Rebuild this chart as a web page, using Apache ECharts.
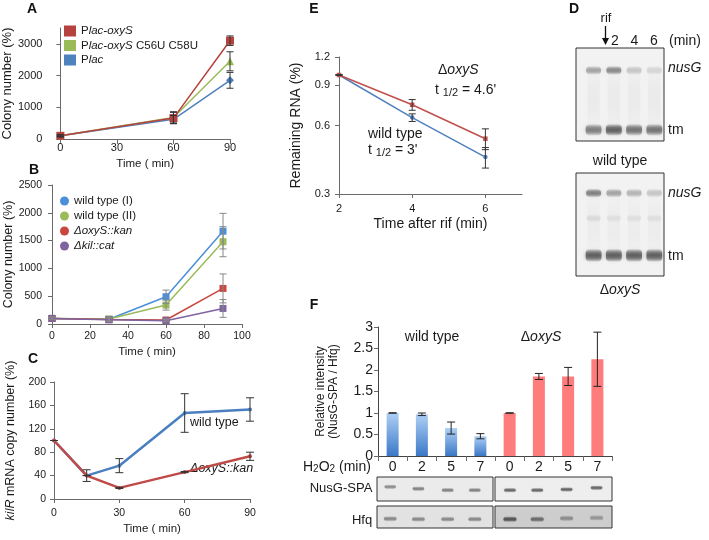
<!DOCTYPE html>
<html><head><meta charset="utf-8">
<script src="https://cdn.jsdelivr.net/npm/echarts@6/dist/echarts.min.js"></script>
<style>html,body{margin:0;padding:0;background:#fff}#c{width:709px;height:540px}</style>
</head><body><div id="c"></div>
<script>
// ---------------- DATA ----------------
// Panel A
const A_time = [0, 60, 90];
const A_placOxyS = [100, 660, 3100];
const A_placOxyS_err = [30, 180, 150];
const A_mutant = [100, 680, 2450];
const A_mutant_err = [30, 180, 300];
const A_plac = [100, 620, 1850];
const A_plac_err = [30, 120, 250];
const A_names = ['Plac-oxyS', 'Plac-oxyS C56U C58U', 'Plac'];
// Panel B
const B_time = [0, 30, 60, 90];
const B_wt1 = [100, 85, 490, 1670];
const B_wt1_err = [20, 40, 120, 320];
const B_wt2 = [100, 90, 340, 1480];
const B_wt2_err = [20, 40, 90, 270];
const B_oxyS = [100, 80, 72, 640];
const B_oxyS_err = [20, 30, 20, 260];
const B_kil = [100, 75, 60, 280];
const B_kil_err = [20, 30, 20, 160];
const B_names = ['wild type (I)', 'wild type (II)', 'ΔoxyS::kan', 'Δkil::cat'];
// Panel C
const C_time = [0, 15, 30, 60, 90];
const C_wt = [100, 40, 57, 147, 153];
const C_wt_err = [0, 10, 12, 33, 20];
const C_oxyS = [100, 40, 19, 46, 73];
const C_oxyS_err = [0, 0, 1, 1, 7];
// Panel E (log axis)
const E_time = [2, 4, 6];
const E_oxyS = [1.0, 0.74, 0.525];
const E_oxyS_low = [1.0, 0.70, 0.47];
const E_oxyS_high = [1.0, 0.78, 0.58];
const E_wt = [1.0, 0.65, 0.436];
const E_wt_low = [1.0, 0.625, 0.39];
const E_wt_high = [1.0, 0.675, 0.48];
const E_yTicks = [0.3, 0.6, 0.9, 1.2];
const E_xTicks = [2, 4, 6];
// Panel F
const F_cats = ['0', '2', '5', '7', '0', '2', '5', '7'];
const F_wt = [1.0, 0.97, 0.65, 0.46];
const F_wt_err = [0.005, 0.03, 0.14, 0.06];
const F_oxyS = [1.0, 1.85, 1.85, 2.25];
const F_oxyS_err = [0.005, 0.07, 0.21, 0.63];
// Gel band intensities (0..1)
const D_wt_nusG = [0.38, 0.5, 0.22, 0.15];
const D_wt_tm = [0.55, 0.7, 0.6, 0.6];
const D_oxyS_nusG = [0.55, 0.38, 0.3, 0.22];
const D_oxyS_mid = [0.1, 0.08, 0.08, 0.08];
const D_oxyS_tm = [0.7, 0.7, 0.7, 0.7];
const F_nusG_wt = [0.5, 0.55, 0.55, 0.55];
const F_nusG_oxyS = [0.7, 0.7, 0.7, 0.7];
const F_hfq_wt = [0.5, 0.5, 0.5, 0.5];
const F_hfq_oxyS = [0.75, 0.6, 0.4, 0.35];

// ---------------- DRAWING ----------------
const FONT = '"Liberation Sans", Arial, Helvetica, sans-serif';
const TXT = '#1a1a1a';
function merge(a, b) {
  const o = Object.assign({}, a);
  for (const k in b) {
    if (b[k] && typeof b[k] === 'object' && !Array.isArray(b[k]) && a[k] && typeof a[k] === 'object') o[k] = merge(a[k], b[k]);
    else o[k] = b[k];
  }
  return o;
}
function axis(gi, extra) {
  return merge({
    type: 'value', gridIndex: gi,
    axisLine: { show: true, onZero: false, lineStyle: { color: '#6a6a6a', width: 1 } },
    axisTick: { show: true, length: 4, lineStyle: { color: '#6a6a6a' } },
    splitLine: { show: false },
    axisLabel: { color: TXT, fontFamily: FONT, fontSize: 11, formatter: v => String(v) },
    nameTextStyle: { color: TXT, fontFamily: FONT, fontSize: 13 },
    nameLocation: 'middle'
  }, extra || {});
}
function hidden(gi, inverse) {
  return { type: 'value', gridIndex: gi, min: 0, max: 1, show: false, inverse: !!inverse };
}
function line(name, xs, ys, gi, color, symbol, size, width, z) {
  return { type: 'line', name, xAxisIndex: gi, yAxisIndex: gi, data: xs.map((x, i) => [x, ys[i]]),
    symbol, symbolSize: size, showSymbol: true, lineStyle: { color, width }, itemStyle: { color },
    z: z || 3, animation: false, emphasis: { disabled: true } };
}
function errBars(xs, lo, hi, gi, color, cap, z) {
  return { type: 'custom', xAxisIndex: gi, yAxisIndex: gi, z: z || 4, animation: false, silent: true,
    data: xs.map((x, i) => [x, lo[i], hi[i]]), encode: { x: 0, y: [1, 2] },
    renderItem: function (params, api) {
      const p1 = api.coord([api.value(0), api.value(2)]);
      const p2 = api.coord([api.value(0), api.value(1)]);
      const st = { stroke: color, lineWidth: 1 };
      return { type: 'group', children: [
        { type: 'line', shape: { x1: p1[0], y1: p1[1], x2: p2[0], y2: p2[1] }, style: st },
        { type: 'line', shape: { x1: p1[0] - cap, y1: p1[1], x2: p1[0] + cap, y2: p1[1] }, style: st },
        { type: 'line', shape: { x1: p2[0] - cap, y1: p2[1], x2: p2[0] + cap, y2: p2[1] }, style: st }
      ] };
    } };
}
function sym(vals, errs, sign) { return vals.map((v, i) => v + sign * errs[i]); }

// gel bands: item = [laneIndex, yFrac, intensity, heightFrac]
function gel(gi, lanes, bandW, items, rgb, blur) {
  return { type: 'custom', xAxisIndex: gi, yAxisIndex: gi, z: 3, animation: false, silent: true,
    data: items, encode: { x: 0, y: 1 },
    renderItem: function (params, api) {
      const lane = api.value(0), a = api.value(2);
      const c = api.coord([lanes[lane], api.value(1)]);
      const w = api.size([bandW, 0])[0];
      const h = api.size([0, api.value(3)])[1];
      const col = 'rgba(' + rgb + ',';
      return { type: 'rect', shape: { x: c[0] - w / 2, y: c[1] - h / 2, width: w, height: h, r: Math.min(h / 2, 4) },
        style: { fill: { type: 'linear', x: 0, y: 0, x2: 0, y2: 1, colorStops: [
          { offset: 0, color: col + (a * 0.2) + ')' }, { offset: 0.3, color: col + (a * 0.85) + ')' },
          { offset: 0.5, color: col + a + ')' }, { offset: 0.7, color: col + (a * 0.85) + ')' },
          { offset: 1, color: col + (a * 0.2) + ')' }] },
          shadowBlur: blur, shadowColor: col + (a * 0.7) + ')' } };
    } };
}
function bands(vals, y, h) { return vals.map((v, i) => [i, y, v, h]); }
function bandsY(vals, ys, h) { return vals.map((v, i) => [i, ys[i], v, h]); }

const legendText = { color: TXT, fontFamily: FONT, fontSize: 11.5, fontStyle: 'normal', rich: { i: { fontStyle: 'italic', fontFamily: FONT, fontSize: 11.5, color: TXT } } };

const D_lanes = [0.2, 0.43, 0.66, 0.89];
const FW_lanes = [0.114, 0.357, 0.609, 0.843];
const FO_lanes = [0.128, 0.361, 0.612, 0.868];

const option = {
  backgroundColor: '#fff',
  animation: false,
  textStyle: { fontFamily: FONT },
  grid: [
    { left: 55, top: 28, width: 175, height: 111 },       // 0 A
    { left: 52, top: 185, width: 190, height: 139 },      // 1 B
    { left: 54, top: 382, width: 196, height: 117 },      // 2 C
    { left: 339, top: 57, width: 183, height: 137 },      // 3 E
    { left: 378, top: 327, width: 234, height: 129 },     // 4 F
    { left: 576, top: 48, width: 88, height: 93, show: true, backgroundColor: '#f2f2f2', borderColor: '#333', borderWidth: 1 },  // 5 D wt
    { left: 576, top: 173, width: 88, height: 103, show: true, backgroundColor: '#f2f2f2', borderColor: '#333', borderWidth: 1 }, // 6 D oxyS
    { left: 377, top: 477, width: 116, height: 24, show: true, backgroundColor: '#ebebeb', borderColor: '#333', borderWidth: 1 },  // 7
    { left: 495, top: 477, width: 117, height: 24, show: true, backgroundColor: '#eeeeee', borderColor: '#333', borderWidth: 1 },  // 8
    { left: 377, top: 506, width: 116, height: 22, show: true, backgroundColor: '#e2e2e2', borderColor: '#333', borderWidth: 1 },  // 9
    { left: 495, top: 506, width: 117, height: 22, show: true, backgroundColor: '#cdcdcd', borderColor: '#333', borderWidth: 1 }   // 10
  ],
  xAxis: [
    axis(0, { min: 0, max: 90, interval: 30, name: 'Time ( min)', nameGap: 19, nameTextStyle: { fontSize: 11.5 }, axisLabel: { margin: 3 }, axisTick: { length: 5 } }),
    axis(1, { min: 0, max: 100, interval: 20, name: 'Time ( min)', nameGap: 22, nameTextStyle: { fontSize: 11.5 }, axisLabel: { margin: 7, fontSize: 10.5 } }),
    axis(2, { min: 0, max: 90, interval: 30, name: 'Time ( min)', nameGap: 24, nameTextStyle: { fontSize: 11.5 }, axisLabel: { margin: 9, fontSize: 10.5 } }),
    axis(3, { min: 2, max: 7, interval: 1, name: 'Time after rif (min)', nameGap: 23, nameTextStyle: { fontSize: 14 },
      axisLabel: { margin: 9, customValues: E_xTicks }, axisTick: { customValues: E_xTicks } }),
    merge(axis(4, {}), { type: 'category', data: F_cats, axisLabel: { fontSize: 14, margin: 4 }, axisTick: { alignWithLabel: false, length: 5 }, axisLine: { lineStyle: { color: '#444' } } }),
    hidden(5), hidden(6), hidden(7), hidden(8), hidden(9), hidden(10)
  ],
  yAxis: [
    axis(0, { min: 0, max: 3500, interval: 1000, name: 'Colony number (%)', nameGap: 37,
      axisLabel: { margin: 18, showMaxLabel: false } }),
    axis(1, { min: 0, max: 2500, interval: 500, name: 'Colony number (%)', nameGap: 37, nameTextStyle: { fontSize: 12.5 }, axisLabel: { margin: 10, fontSize: 10.5 } }),
    axis(2, { min: 0, max: 200, interval: 40, name: '{i|kilR} mRNA copy number (%)', nameGap: 37,
      nameTextStyle: { fontSize: 12.5, rich: { i: { fontStyle: 'italic', fontSize: 12.5, fontFamily: FONT, color: TXT } } },
      axisLabel: { margin: 8, fontSize: 10.5 } }),
    axis(3, { type: 'log', logBase: 10, min: 0.3, max: 1.2, name: 'Remaining RNA (%)', nameGap: 36, nameTextStyle: { fontSize: 14 },
      axisLabel: { margin: 9, customValues: E_yTicks, formatter: v => String(Math.round(v * 10) / 10) }, axisTick: { customValues: E_yTicks } }),
    axis(4, { min: 0, max: 3, interval: 0.5, name: 'Relative intensity\n(NusG-SPA / Hfq)', nameGap: 38,
      nameTextStyle: { fontSize: 12, lineHeight: 13 }, axisLabel: { margin: 5, fontSize: 14 }, axisLine: { lineStyle: { color: '#444' } } }),
    hidden(5, true), hidden(6, true), hidden(7, true), hidden(8, true), hidden(9, true), hidden(10, true)
  ],
  legend: [
    { data: A_names, left: 64, top: 25, padding: 0, orient: 'vertical', icon: 'rect', itemWidth: 12, itemHeight: 11, itemGap: 2.5,
      selectedMode: false, textStyle: legendText,
      formatter: n => n === 'Plac' ? 'P{i|lac}' : n.replace('Plac-oxyS', 'P{i|lac-oxyS}') },
    { data: B_names, left: 60, top: 195, padding: 0, orient: 'vertical', icon: 'circle', itemWidth: 9, itemHeight: 9, itemGap: 3,
      selectedMode: false, textStyle: legendText,
      formatter: n => n.indexOf('Δ') === 0 ? '{i|' + n + '}' : n }
  ],
  series: [
    // A
    line(A_names[2], A_time, A_plac, 0, '#4f81bd', 'diamond', 8, 1.5, 3),
    line(A_names[1], A_time, A_mutant, 0, '#9bbb59', 'triangle', 8, 1.5, 4),
    line(A_names[0], A_time, A_placOxyS, 0, '#b4423e', 'rect', 8, 1.5, 5),
    errBars(A_time, sym(A_plac, A_plac_err, -1), sym(A_plac, A_plac_err, 1), 0, '#333', 3.5, 6),
    errBars(A_time, sym(A_mutant, A_mutant_err, -1), sym(A_mutant, A_mutant_err, 1), 0, '#333', 3.5, 6),
    errBars(A_time, sym(A_placOxyS, A_placOxyS_err, -1), sym(A_placOxyS, A_placOxyS_err, 1), 0, '#333', 3.5, 6),
    // B
    line(B_names[0], B_time, B_wt1, 1, '#4a8fd8', 'rect', 7, 1.5, 3),
    line(B_names[1], B_time, B_wt2, 1, '#9bbb59', 'rect', 7, 1.5, 3),
    line(B_names[2], B_time, B_oxyS, 1, '#c9473f', 'rect', 7, 1.5, 3),
    line(B_names[3], B_time, B_kil, 1, '#8064a2', 'rect', 7, 1.5, 4),
    errBars(B_time, sym(B_wt1, B_wt1_err, -1), sym(B_wt1, B_wt1_err, 1), 1, '#888', 3.5, 6),
    errBars(B_time, sym(B_wt2, B_wt2_err, -1), sym(B_wt2, B_wt2_err, 1), 1, '#888', 3.5, 6),
    errBars(B_time, sym(B_oxyS, B_oxyS_err, -1), sym(B_oxyS, B_oxyS_err, 1), 1, '#888', 3.5, 6),
    errBars(B_time, sym(B_kil, B_kil_err, -1), sym(B_kil, B_kil_err, 1), 1, '#888', 3.5, 6),
    // C
    line('C wild type', C_time, C_wt, 2, '#4a7fc1', 'circle', 4, 2.5, 3),
    line('C oxyS', C_time, C_oxyS, 2, '#be4b48', 'circle', 4, 2.5, 4),
    errBars(C_time, sym(C_wt, C_wt_err, -1), sym(C_wt, C_wt_err, 1), 2, '#333', 4, 6),
    errBars(C_time, sym(C_oxyS, C_oxyS_err, -1), sym(C_oxyS, C_oxyS_err, 1), 2, '#333', 4, 6),
    // E
    line('E wild type', E_time, E_wt, 3, '#4f81bd', 'circle', 4.5, 1.5, 3),
    line('E oxyS', E_time, E_oxyS, 3, '#c0504d', 'rect', 4.5, 1.5, 4),
    errBars(E_time, E_wt_low, E_wt_high, 3, '#333', 3.5, 6),
    errBars(E_time, E_oxyS_low, E_oxyS_high, 3, '#333', 3.5, 6),
    // F
    { type: 'bar', name: 'F wild type', xAxisIndex: 4, yAxisIndex: 4, barWidth: 12, barGap: '-100%', animation: false,
      data: F_wt.concat(['-', '-', '-', '-']),
      itemStyle: { color: { type: 'linear', x: 0, y: 0, x2: 0, y2: 1, colorStops: [{ offset: 0, color: '#aed0f4' }, { offset: 1, color: '#3b78c8' }] } } },
    { type: 'bar', name: 'F oxyS', xAxisIndex: 4, yAxisIndex: 4, barWidth: 12, barGap: '-100%', animation: false,
      data: ['-', '-', '-', '-'].concat(F_oxyS),
      itemStyle: { color: '#ff7c7c' } },
    errBars([0, 1, 2, 3], sym(F_wt, F_wt_err, -1), sym(F_wt, F_wt_err, 1), 4, '#222', 4, 6),
    errBars([4, 5, 6, 7], sym(F_oxyS, F_oxyS_err, -1), sym(F_oxyS, F_oxyS_err, 1), 4, '#222', 4, 6),
    // D gels
    gel(5, D_lanes, 0.14, [0, 1, 2, 3].map(i => [i, 0.55, 0.05, 0.6]), '90,90,90', 8),
    gel(5, D_lanes, 0.17, bands(D_wt_nusG, 0.24, 0.09), '60,60,60', 4),
    gel(5, D_lanes, 0.18, bands(D_wt_tm, 0.88, 0.12), '60,60,60', 4),
    gel(6, D_lanes, 0.14, [0, 1, 2, 3].map(i => [i, 0.5, 0.04, 0.55]), '90,90,90', 8),
    gel(6, D_lanes, 0.17, bands(D_oxyS_nusG, 0.195, 0.08), '60,60,60', 4),
    gel(6, D_lanes, 0.16, bands(D_oxyS_mid, 0.44, 0.07), '60,60,60', 4),
    gel(6, D_lanes, 0.18, bands(D_oxyS_tm, 0.8, 0.12), '60,60,60', 4),
    // F gels
    gel(7, FW_lanes, 0.1, bandsY(F_nusG_wt, [0.41, 0.49, 0.55, 0.55], 0.18), '70,70,70', 2),
    gel(8, FO_lanes, 0.1, bandsY(F_nusG_oxyS, [0.55, 0.55, 0.52, 0.45], 0.18), '70,70,70', 2),
    gel(9, FW_lanes, 0.11, bandsY(F_hfq_wt, [0.58, 0.6, 0.6, 0.6], 0.22), '70,70,70', 2),
    gel(10, FO_lanes, 0.11, bandsY(F_hfq_oxyS, [0.6, 0.6, 0.56, 0.54], 0.24), '60,60,60', 2)
  ],
  graphic: [
    ...[['A', 32, 9], ['B', 34, 170], ['C', 33, 359], ['E', 314, 9], ['D', 574, 9], ['F', 314, 305]].map(t => ({
      type: 'text', x: t[1], y: t[2], style: { text: t[0], font: 'bold 14px ' + FONT, fill: '#111', align: 'center', verticalAlign: 'middle' } })),
    // C annotations
    { type: 'text', x: 190, y: 423, style: { text: 'wild type', font: '12.5px ' + FONT, fill: TXT, verticalAlign: 'middle' } },
    { type: 'text', x: 190, y: 469, style: { text: 'ΔoxyS::kan', font: 'italic 12.5px ' + FONT, fill: TXT, verticalAlign: 'middle' } },
    // E annotations
    { type: 'text', x: 438, y: 70, style: { text: 'Δ{i|oxyS}', font: '14px ' + FONT, fill: TXT, verticalAlign: 'middle',
      rich: { i: { fontStyle: 'italic', fontSize: 14, fontFamily: FONT, fill: TXT } } } },
    { type: 'text', x: 435, y: 90, style: { text: 't {s|1/2} = 4.6\'', font: '14px ' + FONT, fill: TXT, verticalAlign: 'middle',
      rich: { s: { fontSize: 11, fontFamily: FONT, padding: [5, 0, 0, 0] } } } },
    { type: 'text', x: 368, y: 134, style: { text: 'wild type', font: '14px ' + FONT, fill: TXT, verticalAlign: 'middle' } },
    { type: 'text', x: 368, y: 150, style: { text: 't {s|1/2} = 3\'', font: '14px ' + FONT, fill: TXT, verticalAlign: 'middle',
      rich: { s: { fontSize: 11, fontFamily: FONT, padding: [5, 0, 0, 0] } } } },
    // D labels
    { type: 'text', x: 606, y: 18, style: { text: 'rif', font: '13px ' + FONT, fill: TXT, align: 'center', verticalAlign: 'middle' } },
    { type: 'line', shape: { x1: 605.5, y1: 26, x2: 605.5, y2: 40 }, style: { stroke: '#111', lineWidth: 1.3 } },
    { type: 'polygon', shape: { points: [[602, 38], [609, 38], [605.5, 45]] }, style: { fill: '#111' } },
    ...[['2', 615], ['4', 634.5], ['6', 654]].map(t => ({ type: 'text', x: t[1], y: 41, style: { text: t[0], font: '14px ' + FONT, fill: TXT, align: 'center', verticalAlign: 'middle' } })),
    { type: 'text', x: 669, y: 41, style: { text: '(min)', font: '14px ' + FONT, fill: TXT, verticalAlign: 'middle' } },
    { type: 'text', x: 668, y: 68, style: { text: 'nusG', font: 'italic 14px ' + FONT, fill: TXT, verticalAlign: 'middle' } },
    { type: 'text', x: 668, y: 130, style: { text: 'tm', font: '14px ' + FONT, fill: TXT, verticalAlign: 'middle' } },
    { type: 'text', x: 620, y: 161, style: { text: 'wild type', font: '14px ' + FONT, fill: TXT, align: 'center', verticalAlign: 'middle' } },
    { type: 'text', x: 668, y: 193, style: { text: 'nusG', font: 'italic 14px ' + FONT, fill: TXT, verticalAlign: 'middle' } },
    { type: 'text', x: 668, y: 256, style: { text: 'tm', font: '14px ' + FONT, fill: TXT, verticalAlign: 'middle' } },
    { type: 'text', x: 620, y: 290, style: { text: 'Δ{i|oxyS}', font: '14px ' + FONT, fill: TXT, align: 'center', verticalAlign: 'middle',
      rich: { i: { fontStyle: 'italic', fontSize: 14, fontFamily: FONT } } } },
    // F labels
    { type: 'text', x: 432, y: 337, style: { text: 'wild type', font: '14px ' + FONT, fill: TXT, align: 'center', verticalAlign: 'middle' } },
    { type: 'text', x: 541, y: 337, style: { text: 'Δ{i|oxyS}', font: '14px ' + FONT, fill: TXT, align: 'center', verticalAlign: 'middle',
      rich: { i: { fontStyle: 'italic', fontSize: 14, fontFamily: FONT } } } },
    { type: 'text', x: 303, y: 467, style: { text: 'H{s|2}O{s|2} (min)', font: '14px ' + FONT, fill: TXT, verticalAlign: 'middle',
      rich: { s: { fontSize: 10, fontFamily: FONT, padding: [5, 0, 0, 0] } } } },
    { type: 'text', x: 341, y: 488, style: { text: 'NusG-SPA', font: '13px ' + FONT, fill: TXT, align: 'center', verticalAlign: 'middle' } },
    { type: 'text', x: 362, y: 520, style: { text: 'Hfq', font: '13px ' + FONT, fill: TXT, align: 'center', verticalAlign: 'middle' } }
  ]
};
const chart = echarts.init(document.getElementById('c'), null, { renderer: 'canvas' });
chart.setOption(option);
</script></body></html>
